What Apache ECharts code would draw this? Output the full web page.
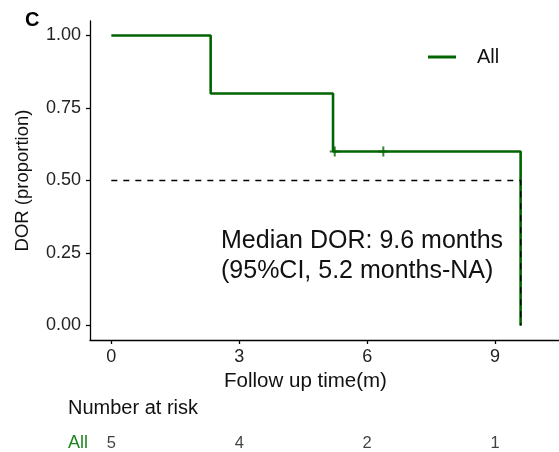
<!DOCTYPE html>
<html>
<head>
<meta charset="utf-8">
<script src="https://cdn.jsdelivr.net/npm/echarts@6/dist/echarts.min.js"></script>
<style>
	html, body { margin: 0; padding: 0; background: #fff; }
	#main { width: 559px; height: 452px; }
</style>
</head>
<body>
<div id="main"></div>
<script>
// KM 曲线数据
var kmTime = [0, 2.33, 5.2, 9.6];
var kmSurv = [1, 0.8, 0.6, 0];
// 删失点
var censorTime = [5.24, 6.38];
var censorSurv = [0.6, 0.6];
// 中位线
var medianTime = 9.6;
var medianSurv = 0.5;
// 坐标刻度
var xTicks = [0, 3, 6, 9];
var yTicks = [0, 0.25, 0.5, 0.75, 1];
// 风险人数表
var riskGroup = ['All'];
var riskTime = [0, 3, 6, 9];
var riskCount = [5, 4, 2, 1];

var FONT = 'Liberation Sans, Arial, sans-serif';
var GREEN = '#006400';

var chart = echarts.init(document.getElementById('main'));

var option = {
	animation: false,
	textStyle: { fontFamily: FONT },
	//网格
	grid: [
		{ left: 90, right: 0, top: 21, bottom: 112 },
		{ left: 90, right: 0, top: 435, height: 26 }
	],
	//图例
	legend: {
		left: 428,
		top: 47,
		padding: 0,
		data: ['All'],
		icon: 'rect',
		itemWidth: 28,
		itemHeight: 3,
		itemStyle: { color: GREEN },
		textStyle: { color: '#111', fontSize: 20, fontFamily: FONT, padding: [0, 0, 0, 16] }
	},
	xAxis: [
		{
			type: 'value',
			gridIndex: 0,
			min: -0.5,
			max: 10.5,
			name: 'Follow up time(m)',
			nameLocation: 'middle',
			nameGap: 31,
			nameTextStyle: { color: '#111', fontSize: 20.5, fontFamily: FONT, padding: [0, 38, 0, 0] },
			splitLine: { show: false },
			axisLine: { onZero: false, lineStyle: { color: '#000', width: 1.3 } },
			axisTick: { length: 4, lineStyle: { color: '#000', width: 1.3 }, customValues: xTicks },
			axisLabel: { color: '#222', fontSize: 18, margin: 8, customValues: xTicks }
		},
		{
			type: 'value',
			gridIndex: 1,
			min: -0.5,
			max: 10.5,
			show: false
		}
	],
	yAxis: [
		{
			type: 'value',
			gridIndex: 0,
			min: -0.05,
			max: 1.05,
			name: 'DOR (proportion)',
			nameLocation: 'middle',
			nameGap: 58,
			nameTextStyle: { color: '#111', fontSize: 18.5, fontFamily: FONT },
			splitLine: { show: false },
			axisLine: { onZero: false, lineStyle: { color: '#000', width: 1.3 } },
			axisTick: { length: 4, lineStyle: { color: '#000', width: 1.3 }, customValues: yTicks },
			axisLabel: {
				color: '#222', fontSize: 18, margin: 9, customValues: yTicks,
				formatter: function (v) { return v.toFixed(2); }
			}
		},
		{
			type: 'category',
			gridIndex: 1,
			data: riskGroup,
			axisLine: { show: false },
			axisTick: { show: false },
			axisLabel: { color: '#1f861f', fontSize: 18, margin: 2 }
		}
	],
	graphic: [
		{ type: 'text', left: 25, top: 10, style: { text: 'C', font: 'bold 20px ' + FONT, fill: '#000' } },
		{
			type: 'text', left: 221, top: 226,
			style: {
				text: 'Median DOR: 9.6 months\n(95%CI, 5.2 months-NA)',
				font: '25px ' + FONT, fill: '#111', lineHeight: 30
			}
		},
		{ type: 'text', left: 68, top: 398, style: { text: 'Number at risk', font: '20px ' + FONT, fill: '#111' } }
	],
	series: [
		{
			name: 'All',
			type: 'line',
			step: 'end',
			symbol: 'none',
			xAxisIndex: 0,
			yAxisIndex: 0,
			lineStyle: { color: GREEN, width: 2.6 },
			itemStyle: { color: GREEN },
			data: kmTime.map(function (t, i) { return [t, kmSurv[i]]; }),
			z: 2
		},
		{
			name: 'censor',
			type: 'scatter',
			xAxisIndex: 0,
			yAxisIndex: 0,
			symbol: 'path://M4,0h2v10h-2z M0,4h10v2h-10z',
			symbolSize: 10,
			itemStyle: { color: GREEN },
			data: censorTime.map(function (t, i) { return [t, censorSurv[i]]; }),
			z: 3
		},
		{
			name: 'median',
			type: 'line',
			symbol: 'none',
			xAxisIndex: 0,
			yAxisIndex: 0,
			lineStyle: { color: '#000', width: 1.4, type: [6, 6] },
			data: [[0, medianSurv], [medianTime, medianSurv], [medianTime, 0]],
			z: 4
		},
		{
			name: 'risk',
			type: 'scatter',
			xAxisIndex: 1,
			yAxisIndex: 1,
			symbolSize: 0,
			label: {
				show: true,
				position: 'inside',
				color: '#111',
				fontSize: 16.5,
				formatter: function (p) { return p.value[2]; }
			},
			data: riskTime.map(function (t, i) { return [t, riskGroup[0], riskCount[i]]; })
		}
	]
};

chart.setOption(option);
</script>
</body>
</html>
